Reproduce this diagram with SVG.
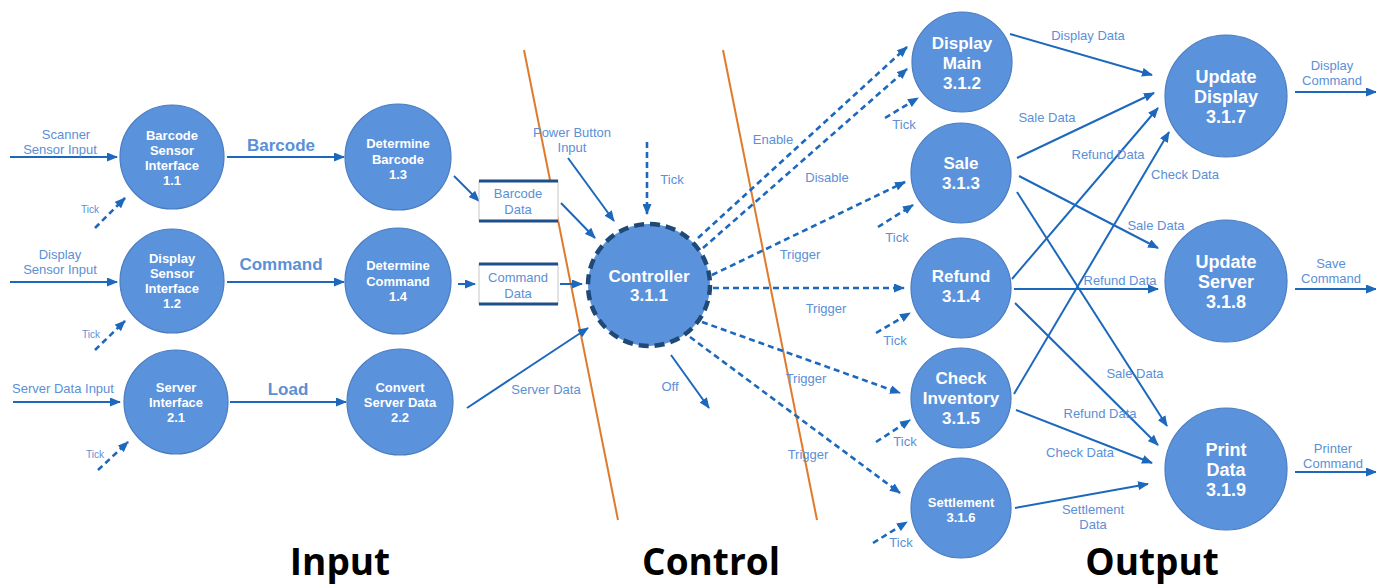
<svg xmlns="http://www.w3.org/2000/svg" width="1376" height="585" viewBox="0 0 1376 585">
<style>
.node{fill:#5a92dc;stroke:#4a7cc0;stroke-width:1.2}
.nt{font-family:"Liberation Sans",Arial,sans-serif;font-weight:bold;fill:#fff;text-anchor:middle}
.s13{font-size:13px}.s17{font-size:17px}.s18{font-size:18px}
.ln{stroke:#1c68bd;stroke-width:2;fill:none;marker-end:url(#ah)}
.dl{stroke:#1c68bd;stroke-width:2.6;fill:none;stroke-dasharray:6 4;marker-end:url(#ah)}
.lb{font-family:"Liberation Sans",Arial,sans-serif;fill:#5b8fd6;text-anchor:middle;font-size:13px}
.big{font-size:17px;font-weight:bold}
.tk{font-size:10px}
.sec{font-family:"Open Sans","Liberation Sans",sans-serif;font-weight:bold;font-size:37px;fill:#000;text-anchor:middle}
.or{stroke:#e07a2a;stroke-width:2}
</style>
<defs>
<marker id="ah" markerWidth="11" markerHeight="9" refX="10" refY="4.5" orient="auto" markerUnits="userSpaceOnUse">
<path d="M0,0 L11,4.5 L0,9 z" fill="#1c68bd"/>
</marker>
</defs>
<rect width="1376" height="585" fill="#fff"/>
<line class="or" x1="524" y1="50" x2="618" y2="520"/>
<line class="or" x1="723" y1="50" x2="817" y2="520"/>
<g id="connectors">
<line class="ln" x1="10" y1="157" x2="117" y2="157"/>
<line class="ln" x1="10" y1="282" x2="117" y2="282"/>
<line class="ln" x1="13" y1="402" x2="120" y2="402"/>
<line class="dl" x1="95" y1="228" x2="125" y2="198"/>
<line class="dl" x1="95" y1="350" x2="125" y2="321"/>
<line class="dl" x1="98" y1="470" x2="128" y2="442"/>
<line class="ln" x1="227" y1="157" x2="344" y2="157"/>
<line class="ln" x1="227" y1="282" x2="344" y2="282"/>
<line class="ln" x1="230" y1="402" x2="346" y2="402"/>
<line class="ln" x1="454" y1="176" x2="479" y2="201"/>
<line class="ln" x1="561" y1="203" x2="595" y2="238"/>
<line class="ln" x1="568" y1="158" x2="614" y2="221"/>
<line class="ln" x1="458" y1="284" x2="475" y2="284"/>
<line class="ln" x1="560" y1="284" x2="582" y2="284"/>
<line class="ln" x1="467" y1="408" x2="588" y2="328"/>
<line class="dl" x1="647" y1="142" x2="647" y2="214"/>
<line class="ln" x1="671" y1="355" x2="709" y2="408"/>
<line class="dl" x1="698" y1="238" x2="907" y2="47"/>
<line class="dl" x1="703" y1="248" x2="907" y2="69"/>
<line class="dl" x1="712" y1="275" x2="905" y2="182"/>
<line class="dl" x1="713" y1="288" x2="904" y2="288"/>
<line class="dl" x1="702" y1="322" x2="900" y2="393"/>
<line class="dl" x1="690" y1="337" x2="900" y2="493"/>
<line class="dl" x1="885" y1="118" x2="918" y2="98"/>
<line class="dl" x1="878" y1="227" x2="913" y2="205"/>
<line class="dl" x1="876" y1="333" x2="910" y2="313"/>
<line class="dl" x1="876" y1="442" x2="910" y2="420"/>
<line class="dl" x1="873" y1="543" x2="907" y2="522"/>
<line class="ln" x1="1010" y1="34" x2="1152" y2="75"/>
<line class="ln" x1="1017" y1="158" x2="1154" y2="93"/>
<line class="ln" x1="1012" y1="279" x2="1158" y2="108"/>
<line class="ln" x1="1014" y1="394" x2="1169" y2="132"/>
<line class="ln" x1="1019" y1="176" x2="1158" y2="248"/>
<line class="ln" x1="1014" y1="289" x2="1158" y2="289"/>
<line class="ln" x1="1017" y1="192" x2="1167" y2="426"/>
<line class="ln" x1="1015" y1="303" x2="1158" y2="445"/>
<line class="ln" x1="1016" y1="410" x2="1152" y2="463"/>
<line class="ln" x1="1015" y1="508" x2="1148" y2="484"/>
<line class="ln" x1="1295" y1="92" x2="1376" y2="92"/>
<line class="ln" x1="1295" y1="289" x2="1376" y2="289"/>
<line class="ln" x1="1295" y1="472" x2="1376" y2="472"/>
</g>
<g id="labels">
<text class="lb" x="66" y="139">Scanner</text>
<text class="lb" x="60" y="154">Sensor Input</text>
<text class="lb" x="60" y="259">Display</text>
<text class="lb" x="60" y="274">Sensor Input</text>
<text class="lb" x="63" y="393">Server Data Input</text>
<text class="lb tk" x="90" y="213">Tick</text>
<text class="lb tk" x="91" y="338">Tick</text>
<text class="lb tk" x="95" y="458">Tick</text>
<text class="lb big" x="281" y="151">Barcode</text>
<text class="lb big" x="281" y="270">Command</text>
<text class="lb big" x="288" y="395">Load</text>
<text class="lb" x="572" y="137">Power Button</text>
<text class="lb" x="572" y="152">Input</text>
<text class="lb" x="672" y="184">Tick</text>
<text class="lb" x="546" y="394">Server Data</text>
<text class="lb" x="670" y="391">Off</text>
<text class="lb" x="773" y="144">Enable</text>
<text class="lb" x="827" y="182">Disable</text>
<text class="lb" x="800" y="259">Trigger</text>
<text class="lb" x="826" y="313">Trigger</text>
<text class="lb" x="806" y="383">Trigger</text>
<text class="lb" x="808" y="459">Trigger</text>
<text class="lb" x="904" y="129">Tick</text>
<text class="lb" x="897" y="242">Tick</text>
<text class="lb" x="895" y="345">Tick</text>
<text class="lb" x="905" y="446">Tick</text>
<text class="lb" x="901" y="547">Tick</text>
<text class="lb" x="1088" y="40">Display Data</text>
<text class="lb" x="1047" y="122">Sale Data</text>
<text class="lb" x="1108" y="159">Refund Data</text>
<text class="lb" x="1185" y="179">Check Data</text>
<text class="lb" x="1156" y="230">Sale Data</text>
<text class="lb" x="1120" y="285">Refund Data</text>
<text class="lb" x="1135" y="378">Sale Data</text>
<text class="lb" x="1100" y="418">Refund Data</text>
<text class="lb" x="1080" y="457">Check Data</text>
<text class="lb" x="1093" y="514">Settlement</text>
<text class="lb" x="1093" y="529">Data</text>
<text class="lb" x="1332" y="70">Display</text>
<text class="lb" x="1332" y="85">Command</text>
<text class="lb" x="1331" y="268">Save</text>
<text class="lb" x="1331" y="283">Command</text>
<text class="lb" x="1333" y="453">Printer</text>
<text class="lb" x="1333" y="468">Command</text>
</g>
<g id="store-barcode">
<rect x="479" y="181" width="79" height="40" fill="#fff" stroke="#c8c8c8" stroke-width="1"/>
<line x1="479" y1="181" x2="558" y2="181" stroke="#1f4f8a" stroke-width="3"/>
<line x1="479" y1="221" x2="558" y2="221" stroke="#1f4f8a" stroke-width="3"/>
<text class="lb" x="518" y="198">Barcode</text>
<text class="lb" x="518" y="214">Data</text>
</g>
<g id="store-command">
<rect x="479" y="264" width="79" height="40" fill="#fff" stroke="#c8c8c8" stroke-width="1"/>
<line x1="479" y1="264" x2="558" y2="264" stroke="#1f4f8a" stroke-width="3"/>
<line x1="479" y1="304" x2="558" y2="304" stroke="#1f4f8a" stroke-width="3"/>
<text class="lb" x="518" y="282">Command</text>
<text class="lb" x="518" y="298">Data</text>
</g>
<g id="n11"><circle class="node" cx="172" cy="157" r="52"/>
<text class="nt s13" x="172" y="140">Barcode</text><text class="nt s13" x="172" y="155">Sensor</text><text class="nt s13" x="172" y="170">Interface</text><text class="nt s13" x="172" y="185">1.1</text></g>
<g id="n12"><circle class="node" cx="172" cy="281" r="52"/>
<text class="nt s13" x="172" y="263">Display</text><text class="nt s13" x="172" y="278">Sensor</text><text class="nt s13" x="172" y="293">Interface</text><text class="nt s13" x="172" y="308">1.2</text></g>
<g id="n21"><circle class="node" cx="176" cy="402" r="52"/>
<text class="nt s13" x="176" y="392">Server</text><text class="nt s13" x="176" y="407">Interface</text><text class="nt s13" x="176" y="422">2.1</text></g>
<g id="n13"><circle class="node" cx="398" cy="157" r="53"/>
<text class="nt s13" x="398" y="148">Determine</text><text class="nt s13" x="398" y="164">Barcode</text><text class="nt s13" x="398" y="179">1.3</text></g>
<g id="n14"><circle class="node" cx="398" cy="281" r="53"/>
<text class="nt s13" x="398" y="270">Determine</text><text class="nt s13" x="398" y="286">Command</text><text class="nt s13" x="398" y="301">1.4</text></g>
<g id="n22"><circle class="node" cx="400" cy="402" r="53"/>
<text class="nt s13" x="400" y="392">Convert</text><text class="nt s13" x="400" y="407">Server Data</text><text class="nt s13" x="400" y="422">2.2</text></g>
<g id="n311"><circle cx="649" cy="285" r="61" fill="#5a92dc" stroke="#1f4a78" stroke-width="4.5" stroke-dasharray="10 6"/>
<text class="nt s17" x="649" y="282">Controller</text><text class="nt s17" x="649" y="301">3.1.1</text></g>
<g id="n312"><circle class="node" cx="962" cy="62" r="50"/>
<text class="nt s17" x="962" y="49">Display</text><text class="nt s17" x="962" y="69">Main</text><text class="nt s17" x="962" y="89">3.1.2</text></g>
<g id="n313"><circle class="node" cx="961" cy="173" r="50"/>
<text class="nt s17" x="961" y="169">Sale</text><text class="nt s17" x="961" y="189">3.1.3</text></g>
<g id="n314"><circle class="node" cx="961" cy="288" r="50"/>
<text class="nt s17" x="961" y="282">Refund</text><text class="nt s17" x="961" y="302">3.1.4</text></g>
<g id="n315"><circle class="node" cx="961" cy="398" r="50"/>
<text class="nt s17" x="961" y="384">Check</text><text class="nt s17" x="961" y="404">Inventory</text><text class="nt s17" x="961" y="424">3.1.5</text></g>
<g id="n316"><circle class="node" cx="961" cy="508" r="50"/>
<text class="nt s13" x="961" y="507">Settlement</text><text class="nt s13" x="961" y="522">3.1.6</text></g>
<g id="n317"><circle class="node" cx="1226" cy="96" r="61"/>
<text class="nt s18" x="1226" y="83">Update</text><text class="nt s18" x="1226" y="103">Display</text><text class="nt s18" x="1226" y="123">3.1.7</text></g>
<g id="n318"><circle class="node" cx="1226" cy="281" r="61"/>
<text class="nt s18" x="1226" y="268">Update</text><text class="nt s18" x="1226" y="288">Server</text><text class="nt s18" x="1226" y="308">3.1.8</text></g>
<g id="n319"><circle class="node" cx="1226" cy="469" r="61"/>
<text class="nt s18" x="1226" y="456">Print</text><text class="nt s18" x="1226" y="476">Data</text><text class="nt s18" x="1226" y="496">3.1.9</text></g>
<text class="sec" x="340" y="575">Input</text>
<text class="sec" x="711" y="575">Control</text>
<text class="sec" x="1152" y="575">Output</text>
</svg>
